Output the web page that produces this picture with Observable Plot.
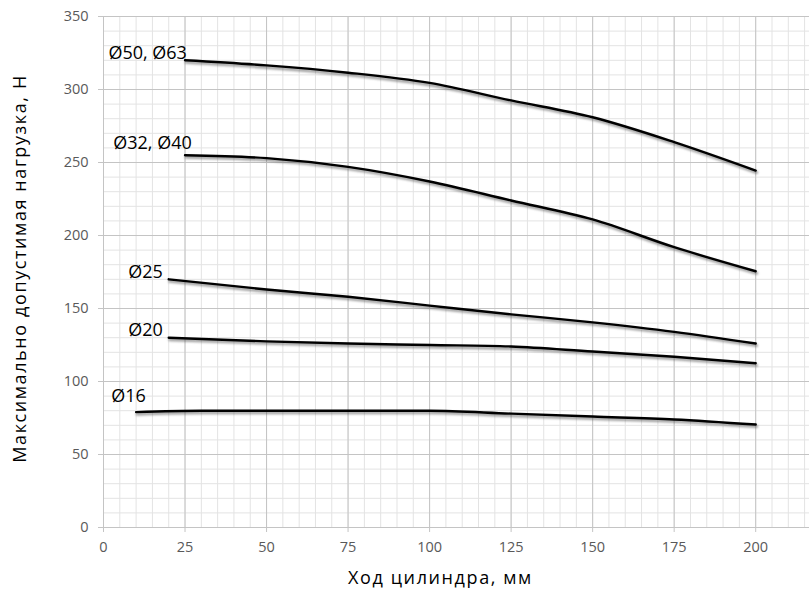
<!DOCTYPE html>
<html>
<head>
<meta charset="utf-8">
<script src="https://cdn.jsdelivr.net/npm/d3@7"></script>
<script src="https://cdn.jsdelivr.net/npm/@observablehq/plot@0.6"></script>
<style>
  html, body { margin: 0; padding: 0; background: #fff; }
  .shadow path { filter: blur(1.2px); }
  .title text { letter-spacing: 1.6px; }
</style>
</head>
<body>
<div id="chart"></div>
<script>
// ---- data ----
const xTicks = [0, 25, 50, 75, 100, 125, 150, 175, 200];
const yTicks = [0, 50, 100, 150, 200, 250, 300, 350];

const x50 = [25, 50, 75, 100, 125, 150, 175, 200];
const y50 = [320, 316.5, 311.5, 304.5, 292.5, 281, 264, 244.5];

const x32 = [25, 50, 75, 100, 125, 150, 175, 200];
const y32 = [255, 253, 247, 237, 224, 211, 192, 175.5];

const x25 = [20, 50, 75, 100, 125, 150, 175, 200];
const y25 = [170, 163, 158, 152, 146, 140.5, 134, 126];

const x20 = [20, 50, 75, 100, 125, 150, 175, 200];
const y20 = [130, 127.5, 126, 125, 124, 120.5, 117, 112.5];

const x16 = [10, 30, 50, 75, 100, 125, 150, 175, 200];
const y16 = [79, 80, 80, 80, 80, 78, 76, 74, 70.5];

const seriesNames = ["Ø50, Ø63", "Ø32, Ø40", "Ø25", "Ø20", "Ø16"];
const labelX = [1.5, 3.0, 7.6, 7.6, 2.4];
const labelY = [321, 259.5, 170.7, 131.4, 85.7];

const xTitle = "Ход цилиндра, мм";
const yTitle = "Максимально допустимая нагрузка, Н";

// ---- build table ----
const seriesX = [x50, x32, x25, x20, x16];
const seriesY = [y50, y32, y25, y20, y16];
const rows = [];
seriesNames.forEach((name, i) => {
  seriesX[i].forEach((xv, j) => rows.push({series: name, x: xv, y: seriesY[i][j]}));
});
const labels = seriesNames.map((name, i) => ({name, x: labelX[i], y: labelY[i]}));

const xMax = 216.5;
const minorX = d3.range(0, xMax, 5);
const majorX = d3.range(0, xMax, 25);
const minorY = d3.range(0, 351, 10);
const majorY = d3.range(0, 351, 50);

const font = "'Open Sans', sans-serif";

const chart = Plot.plot({
  width: 809,
  height: 595,
  marginLeft: 103,
  marginRight: 0,
  marginTop: 16,
  marginBottom: 68,
  style: {fontFamily: font, background: "#fff"},
  x: {domain: [0, xMax]},
  y: {domain: [0, 350]},
  marks: [
    Plot.ruleX(minorX, {stroke: "#e3e3e3", strokeWidth: 1}),
    Plot.ruleY(minorY, {stroke: "#e3e3e3", strokeWidth: 1}),
    Plot.ruleX(majorX, {stroke: "#c4c4c4", strokeWidth: 1}),
    Plot.ruleY(majorY, {stroke: "#c4c4c4", strokeWidth: 1}),
    Plot.axisX({ticks: xTicks, tickSize: 5, tickPadding: 9, stroke: "#c4c4c4", fill: "#595959", fontSize: 14.5, label: null}),
    Plot.axisY({ticks: yTicks, tickSize: 5, tickPadding: 10, stroke: "#c4c4c4", fill: "#595959", fontSize: 14.5, label: null}),
    Plot.line(rows, {x: "x", y: "y", z: "series", curve: "monotone-x", stroke: "#555", strokeOpacity: 0.55, strokeWidth: 3, dx: 1, dy: 2, className: "shadow"}),
    Plot.line(rows, {x: "x", y: "y", z: "series", curve: "monotone-x", stroke: "#000", strokeWidth: 2.4}),
    Plot.text(labels, {x: "x", y: "y", text: "name", textAnchor: "start", lineAnchor: "bottom", fontSize: 18, fill: "#000"}),
    Plot.text([xTitle], {frameAnchor: "bottom", dx: -16, dy: 56, fontSize: 18, fill: "#000", className: "title"}),
    Plot.text([yTitle], {frameAnchor: "left", textAnchor: "middle", rotate: -90, dx: -83, dy: -3.5, fontSize: 18, fill: "#000", className: "title"})
  ]
});
document.getElementById("chart").appendChild(chart);
</script>
</body>
</html>
